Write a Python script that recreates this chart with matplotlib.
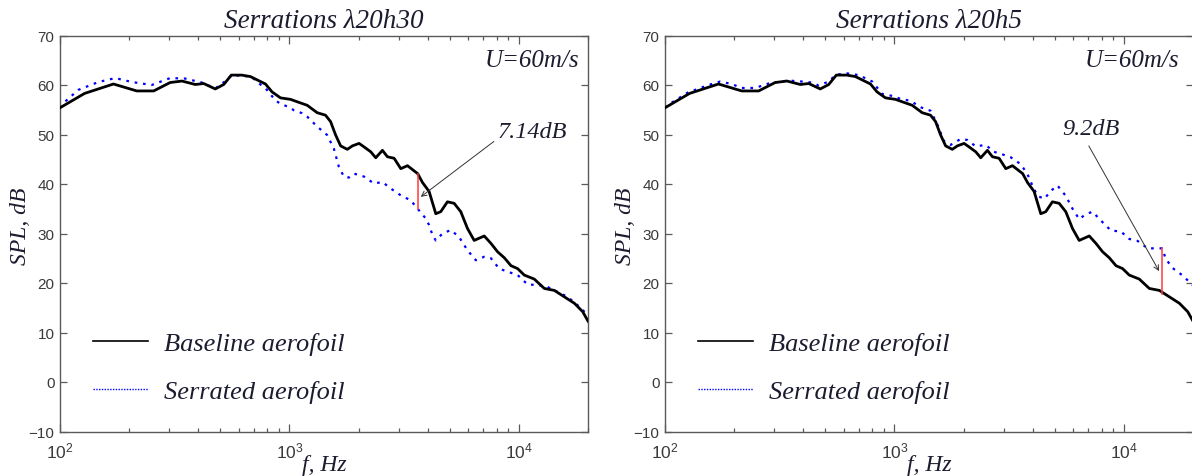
import matplotlib
matplotlib.use('Agg')
import matplotlib.pyplot as plt
from matplotlib.lines import Line2D
from matplotlib.ticker import LogLocator, NullFormatter, FixedLocator, FixedFormatter

# ---------------- data ----------------
freq_base = [100, 128, 171, 216, 256, 302, 340, 389, 423, 475, 517, 558, 620, 676,
             786, 840, 914, 1010, 1098, 1195, 1321, 1436, 1511, 1589, 1671, 1787,
             1880, 2011, 2113, 2261, 2377, 2542, 2673, 2858, 3056, 3268, 3550, 3620,
             3800, 4060, 4342, 4563, 4880, 5220, 5580, 5970, 6383, 7061, 7552, 8075,
             8634, 9233, 9872, 10550, 11660, 12900, 14270, 15780, 17450, 18970, 20000]
spl_base = [55.4, 58.3, 60.2, 58.8, 58.8, 60.5, 60.8, 60.1, 60.3, 59.2, 60.1, 62.0, 62.0, 61.7,
            60.2, 58.6, 57.4, 57.1, 56.5, 55.9, 54.4, 53.9, 52.6, 49.9, 47.7, 47.0,
            47.7, 48.2, 47.5, 46.5, 45.3, 46.8, 45.5, 45.2, 43.1, 43.7, 42.4, 42.1,
            40.3, 38.5, 34.0, 34.4, 36.4, 36.1, 34.4, 31.0, 28.6, 29.5, 28.0, 26.3,
            25.1, 23.5, 22.9, 21.6, 20.8, 18.9, 18.5, 17.2, 15.9, 14.2, 12.3]

freq_serr_h30 = [100, 105, 120, 147, 174, 206, 251, 302, 351, 415, 475, 526, 562, 680,
                 798, 868, 914, 1000, 1045, 1136, 1195, 1321, 1459, 1560, 1641, 1726,
                 1815, 1909, 2113, 2335, 2542, 2761, 3056, 3377, 3620, 3930, 4060, 4200,
                 4342, 4645, 5050, 5485, 5970, 6490, 7061, 7552, 8200, 8913, 9872,
                 10910, 12060, 13330, 14740, 16300, 18030, 20000]
spl_serr_h30 = [55.4, 56.6, 59.0, 60.6, 61.4, 60.6, 60.0, 61.4, 61.3, 60.5, 59.3, 60.8, 62.0, 61.7,
                59.0, 56.9, 56.2, 55.5, 54.9, 54.3, 53.6, 51.6, 49.9, 47.2, 43.5, 41.5,
                41.3, 42.1, 41.5, 40.1, 40.4, 39.1, 37.7, 36.7, 35.0, 33.0, 31.7, 29.7,
                28.6, 30.0, 30.7, 29.3, 26.6, 24.6, 25.3, 25.0, 22.9, 22.3, 21.6,
                19.7, 19.6, 19.2, 18.2, 17.2, 15.5, 13.5]

freq_serr_h5 = [100, 105, 126, 155, 174, 195, 216, 247, 287, 345, 395, 437, 467, 517,
                553, 611, 699, 800, 884, 977, 1062, 1175, 1300, 1436, 1536, 1641, 1757,
                1943, 2077, 2261, 2496, 2714, 2904, 3211, 3550, 3798, 3990, 4200, 4500,
                4800, 5130, 5580, 5970, 6383, 6825, 7300, 7943, 8777, 9704, 10550,
                11470, 12690, 14660, 15250, 16320, 18040, 20000]
spl_serr_h5 = [55.4, 56.2, 58.5, 60.0, 60.7, 60.2, 59.4, 59.4, 60.4, 60.9, 60.7, 60.5, 59.9, 60.7,
               62.0, 62.4, 62.0, 60.7, 58.2, 57.8, 57.2, 56.8, 55.5, 54.8, 52.1, 48.7, 47.9,
               49.1, 48.9, 47.6, 47.9, 46.5, 46.1, 45.4, 44.0, 42.0, 39.7, 37.6, 37.0,
               38.6, 39.7, 37.6, 35.0, 32.9, 33.9, 34.4, 32.6, 30.6, 30.4, 28.9,
               28.5, 27.0, 27.0, 24.8, 23.0, 21.5, 19.5]

titles = ['Serrations \u03bb20h30', 'Serrations \u03bb20h5']
legend_labels = ['Baseline aerofoil', 'Serrated aerofoil']
speed_label = 'U=60m/s'
gap_labels = ['7.14dB', '9.2dB']
gap_freq = [3620, 14660]
gap_top = [42.1, 27.0]
gap_bottom = [35.0, 17.8]
arrow_tail = [(7780, 48.6), (7030, 47.7)]
arrow_head = [(3734, 37.4), (14230, 22.4)]
gap_label_pos = [(11400, 50.6), (7180, 51.3)]
yticks = [-10, 0, 10, 20, 30, 40, 50, 60, 70]
xticks = [1e2, 1e3, 1e4]
xticklabels = [r'$10^{2}$', r'$10^{3}$', r'$10^{4}$']
xlabel = 'f, Hz'
ylabel = 'SPL, dB'

# ---------------- styling ----------------
plt.rcParams['mathtext.fontset'] = 'custom'
plt.rcParams['mathtext.rm'] = 'Liberation Sans'
plt.rcParams['mathtext.it'] = 'Liberation Sans'

serif_it = dict(family='Liberation Serif', style='italic')
text_col = '#1c1c30'
tick_col = '#3a3a3a'
spine_col = '#5a5a5a'

fig = plt.figure(figsize=(11.92, 4.77), dpi=100)
W, H = 1192.0, 477.0
ax_bottom = 1 - 432.5 / H
ax_height = 396.0 / H
ax_width = 528.0 / W
axes = [fig.add_axes([60 / W, ax_bottom, ax_width, ax_height]),
        fig.add_axes([665 / W, ax_bottom, ax_width, ax_height])]
serrated = [(freq_serr_h30, spl_serr_h30), (freq_serr_h5, spl_serr_h5)]
speed_x = [0.984, 0.975]

for i, ax in enumerate(axes):
    fs, ss = serrated[i]
    ax.plot(freq_base, spl_base, color='black', lw=2.0, solid_joinstyle='round', zorder=3)
    ax.plot(fs, ss, color='#0000ff', lw=1.6, linestyle=(0, (1.2, 2.6)), zorder=2)
    ax.plot([gap_freq[i], gap_freq[i]], [gap_bottom[i], gap_top[i]], color='#ff3b3b', lw=1.1, zorder=4)
    ax.annotate('', xy=arrow_head[i], xytext=arrow_tail[i],
                arrowprops=dict(arrowstyle='->', lw=0.7, color='#333333',
                                shrinkA=0, shrinkB=0, mutation_scale=9), zorder=5)
    ax.text(gap_label_pos[i][0], gap_label_pos[i][1], gap_labels[i], ha='center', va='center',
            fontsize=17.5, color=text_col, **serif_it)
    ax.text(speed_x[i], 0.922, speed_label, transform=ax.transAxes, ha='right', va='baseline',
            fontsize=18, color=text_col, **serif_it)

    ax.set_xscale('log')
    ax.set_xlim(100, 20000)
    ax.set_ylim(-10, 70)
    ax.xaxis.set_major_locator(FixedLocator(xticks))
    ax.xaxis.set_major_formatter(FixedFormatter(xticklabels))
    ax.xaxis.set_minor_locator(LogLocator(base=10, subs=[2, 3, 4, 5, 6, 7, 8, 9], numticks=20))
    ax.xaxis.set_minor_formatter(NullFormatter())
    ax.set_yticks(yticks)
    ax.tick_params(axis='both', which='both', direction='in', top=True, right=True,
                   color=spine_col, labelcolor=tick_col)
    ax.tick_params(axis='y', which='major', length=5, width=0.9, pad=4, labelsize=11)
    ax.tick_params(axis='x', which='major', length=5.5, width=0.9, pad=7, labelsize=12.5)
    ax.tick_params(axis='x', which='minor', length=3.2, width=0.9)
    for lab in ax.get_yticklabels():
        lab.set_family(['Liberation Sans Narrow', 'Liberation Sans'])
    for sp in ax.spines.values():
        sp.set_color(spine_col)
        sp.set_linewidth(1.0)

    ax.set_title(titles[i], fontsize=19.5, color=text_col, pad=6, **serif_it)
    ax.set_xlabel(xlabel, fontsize=17, color=text_col, **serif_it)
    ax.xaxis.set_label_coords(0.5, -0.056)
    ax.set_ylabel(ylabel, fontsize=17, color=text_col, **serif_it)
    ax.yaxis.set_label_coords(-0.054, 0.52)

    handles = [Line2D([], [], color='black', lw=1.2),
               Line2D([], [], color='#0000ff', lw=1.0, linestyle=(0, (1, 1)))]
    ax.legend(handles, legend_labels, loc='center left', bbox_to_anchor=(0.0625, 0.162),
              frameon=False, prop=dict(family='Liberation Serif', style='italic', size=19),
              handlelength=2.1, handletextpad=0.6, labelspacing=0.95,
              borderpad=0, borderaxespad=0, labelcolor=text_col)

fig.savefig('out.png', dpi=100)
